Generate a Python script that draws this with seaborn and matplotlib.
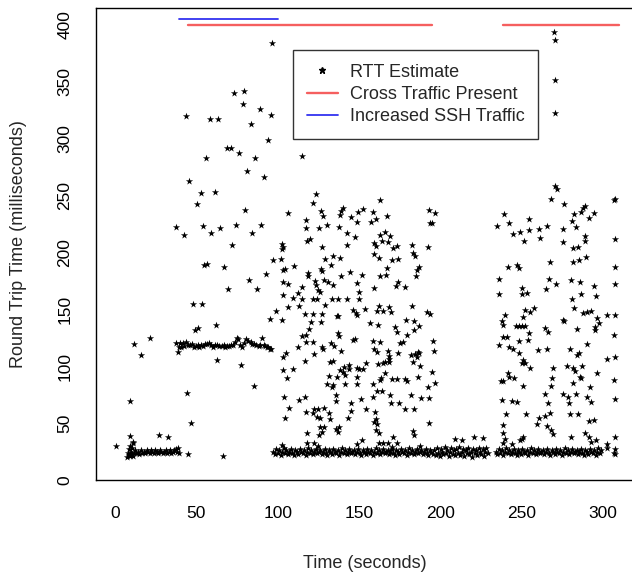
import pandas as pd
import seaborn as sns
import matplotlib.pyplot as plt
from matplotlib.lines import Line2D

# RTT estimates as (time s, rtt ms), segment by segment
start_pts = [(0.4, 29.9), (9.2, 69.5), (11.7, 119.6), (16.2, 109.9), (21.3, 124.8),
             (27.0, 39.9), (32.8, 37.8), (9.2, 38.7), (10.9, 33.7), (11.3, 32.2)]
start_base = [(7.4, 20), (7.9, 24), (8.3, 27), (8.7, 22), (9.1, 30), (9.5, 21), (9.9, 25),
              (10.3, 23), (10.7, 28), (11.1, 21), (11.6, 24), (12.2, 26), (13.0, 24), (13.9, 25),
              (14.8, 23), (15.7, 26), (16.6, 24), (17.6, 25), (18.5, 24), (19.4, 26), (20.3, 25),
              (21.2, 24), (22.1, 26), (23.0, 25), (23.9, 24), (24.8, 26), (25.7, 25), (26.6, 24),
              (27.5, 26), (28.4, 25), (29.3, 24), (30.2, 25), (31.1, 26), (32.0, 24), (32.9, 25),
              (33.8, 26), (34.7, 24), (35.6, 25), (36.5, 26), (37.3, 27), (38.1, 25), (38.8, 28),
              (39.2, 24)]

ssh_high = [(96.3, 384.4), (73.1, 340.5), (79.3, 342.3), (78.5, 330.5), (88.9, 326.2),
            (95.7, 320.9), (43.4, 320.0), (58.4, 317.4), (63.5, 317.4), (83.8, 313.0),
            (94.2, 298.9), (68.6, 292.1), (71.1, 292.1), (76.4, 287.5), (56.1, 283.1),
            (86.2, 283.1), (81.3, 271.6), (91.8, 266.4), (45.7, 262.9), (52.9, 252.3),
            (61.5, 253.2), (50.4, 242.9), (79.9, 237.4), (37.7, 222.4), (42.6, 215.4),
            (54.1, 223.3), (59.2, 217.4), (64.3, 221.5), (74.2, 224.2), (84.4, 217.4),
            (89.7, 224.2), (71.9, 206.6), (54.9, 189.0), (56.7, 189.9), (67.2, 187.5),
            (92.6, 181.1), (82.1, 175.8), (69.4, 167.9), (87.1, 167.9), (47.9, 155.0),
            (53.7, 155.0), (49.0, 131.9), (51.0, 133.3), (62.1, 136.3), (62.9, 105.5),
            (77.2, 101.1), (85.2, 82.6), (44.1, 76.5), (46.5, 50.1), (45.0, 22.9), (66.6, 21.1)]
ssh_band = [(37.5, 120.7), (38.5, 112.5), (39.1, 117.2), (39.9, 120.1), (40.8, 116.6),
            (41.6, 120.7), (42.3, 118.0), (43.5, 121.0), (44.8, 119.0), (46.0, 118.5),
            (47.3, 119.5), (48.5, 117.0), (49.8, 117.8), (50.8, 118.5), (51.8, 117.2),
            (53.0, 119.0), (54.2, 118.0), (55.5, 119.5), (56.5, 120.0), (57.6, 120.1),
            (58.8, 118.5), (60.4, 117.2), (61.5, 118.3), (62.8, 119.0), (64.0, 118.0),
            (65.6, 117.8), (66.7, 118.5), (67.8, 117.2), (69.0, 118.0), (70.3, 117.8),
            (71.5, 118.5), (72.7, 118.4), (73.8, 121.0), (74.8, 124.6), (75.6, 123.8),
            (76.8, 119.0), (77.9, 116.6), (79.3, 120.5), (80.5, 123.8), (81.8, 122.0),
            (83.4, 121.3), (84.4, 120.0), (85.4, 119.5), (86.8, 118.5), (88.3, 117.8),
            (89.4, 119.0), (90.4, 124.9), (91.6, 118.4), (92.4, 117.5), (93.2, 117.2),
            (94.2, 116.5), (95.3, 115.6)]

cross1_pts = [(115.0, 284.8), (123.6, 251.1), (121.5, 243.8), (106.2, 235.0), (126.6, 236.8),
              (127.7, 232.4), (140.4, 239.4), (138.9, 236.5), (138.3, 233.0), (145.3, 231.5),
              (149.4, 235.3), (152.3, 238.2), (149.0, 227.1), (162.9, 246.1), (158.4, 235.9),
              (160.7, 229.7), (157.4, 227.1), (167.4, 232.4), (192.8, 237.4), (196.9, 235.0),
              (193.6, 226.2), (195.1, 226.2), (117.2, 228.9), (117.2, 221.8), (125.6, 221.5),
              (130.3, 224.5), (137.7, 222.7), (142.4, 216.8), (147.8, 213.3), (118.2, 210.4),
              (119.9, 211.9), (142.8, 206.6), (127.3, 204.5), (159.2, 208.6), (160.5, 205.7),
              (162.9, 215.4), (166.0, 218.3), (169.0, 214.5), (164.1, 209.8), (168.0, 208.9),
              (170.7, 203.7), (173.2, 205.7), (182.6, 206.6), (183.4, 199.3), (184.4, 196.9),
              (192.4, 204.5), (102.7, 207.2), (103.1, 205.1), (102.5, 202.8), (96.9, 193.4),
              (101.9, 194.3), (129.1, 194.0), (133.8, 196.9), (138.3, 195.5), (132.6, 189.0),
              (159.2, 198.4), (162.5, 194.8), (170.1, 193.4), (174.2, 194.0), (167.0, 186.1),
              (186.9, 186.9), (185.4, 184.6), (103.5, 184.6), (104.5, 185.2), (110.3, 188.1),
              (118.5, 181.7), (118.5, 179.4), (126.9, 185.8), (127.5, 184.0), (139.1, 179.4),
              (144.5, 183.2), (151.6, 180.2), (162.9, 179.4), (166.6, 180.2), (184.8, 179.4),
              (103.5, 174.4), (106.6, 172.3), (123.0, 175.0), (128.5, 175.8), (131.2, 174.4),
              (134.2, 171.4), (123.6, 171.4), (125.0, 167.0), (126.0, 165.6), (114.8, 169.4),
              (112.7, 164.7), (149.0, 173.5), (150.2, 165.0), (150.2, 159.1), (159.2, 168.5),
              (174.2, 174.4), (172.7, 170.6), (178.3, 170.0), (103.5, 162.6), (109.2, 160.3),
              (114.8, 158.8), (99.0, 148.6), (95.3, 141.3), (102.7, 140.7), (106.6, 152.4),
              (113.1, 153.3), (121.9, 159.1), (124.0, 159.1), (129.1, 153.8), (133.4, 159.1),
              (137.3, 159.1), (142.4, 159.1), (136.3, 144.5), (136.9, 144.5), (146.1, 149.5),
              (148.2, 147.1), (149.0, 145.1), (153.7, 150.6), (162.5, 153.3), (160.9, 148.6),
              (165.0, 148.6), (168.4, 152.4), (169.5, 147.4), (182.6, 153.0), (191.6, 148.0),
              (193.6, 145.9), (116.8, 145.7), (121.9, 146.0), (127.0, 146.0), (120.3, 139.2),
              (126.4, 139.2), (156.8, 138.3), (161.9, 136.6), (178.9, 140.7), (183.8, 140.1),
              (187.1, 135.7), (172.3, 134.8), (173.2, 130.4), (119.5, 132.8), (114.8, 126.9),
              (117.4, 127.5), (137.3, 129.0), (137.9, 126.6), (179.5, 127.5), (183.8, 131.9),
              (146.5, 123.1), (147.8, 123.7), (117.2, 121.0), (121.9, 121.6), (112.7, 116.7),
              (95.7, 115.2), (132.8, 120.2), (134.8, 117.8), (138.9, 113.7), (127.0, 116.7),
              (127.7, 115.2), (158.4, 121.9), (162.9, 121.0), (175.2, 120.7), (177.3, 121.3),
              (195.3, 122.5), (159.4, 114.9), (160.9, 112.8), (167.8, 113.1), (168.4, 109.3),
              (174.2, 111.4), (181.8, 109.9), (184.4, 110.8), (186.9, 112.0), (185.4, 107.8),
              (186.1, 112.5), (196.3, 113.7), (103.1, 108.4), (104.9, 112.0), (116.8, 104.6),
              (122.5, 110.8), (132.2, 104.0), (133.8, 104.8), (144.1, 101.1), (141.0, 99.1),
              (148.6, 98.8), (150.2, 97.6), (152.3, 97.6), (154.1, 103.2), (161.9, 102.0),
              (164.6, 102.6), (166.0, 103.5), (168.7, 104.1), (168.2, 106.1), (183.0, 104.1),
              (187.5, 100.2), (103.5, 96.7), (109.6, 97.6), (138.3, 96.7), (140.0, 95.3),
              (143.9, 97.3), (131.8, 91.4), (136.3, 90.9), (141.4, 92.3), (149.0, 90.9),
              (163.5, 89.4), (162.9, 87.9), (166.0, 94.4), (170.1, 88.8), (173.2, 88.8),
              (178.3, 88.5), (179.3, 87.3), (186.5, 90.9), (194.7, 95.3), (106.0, 90.0),
              (130.1, 84.1), (133.6, 81.5), (134.2, 83.2), (141.2, 84.4), (149.0, 84.4),
              (158.8, 84.1), (160.9, 78.6), (164.1, 78.6), (192.4, 81.5), (196.9, 85.3),
              (104.1, 73.0), (113.3, 70.6), (116.6, 72.7), (135.9, 74.7), (135.7, 69.8),
              (151.0, 70.9), (158.8, 72.7), (169.0, 74.7), (169.5, 68.0), (174.8, 67.4),
              (182.2, 74.4), (187.9, 72.1), (193.2, 72.4), (107.0, 63.0), (117.4, 60.1),
              (122.5, 62.7), (125.0, 62.7), (128.7, 63.6), (121.9, 58.6), (124.0, 55.7),
              (126.1, 54.2), (131.4, 58.6), (132.2, 53.3), (145.1, 67.4), (145.1, 60.4),
              (154.1, 62.4), (143.0, 54.8), (160.0, 60.1), (160.5, 53.3), (159.2, 51.3),
              (161.3, 49.2), (178.3, 62.1), (184.0, 62.7), (193.2, 50.4), (104.5, 54.2),
              (126.1, 46.9), (128.7, 46.9), (127.1, 42.5), (125.6, 39.6), (117.8, 41.3),
              (135.9, 45.1), (137.3, 42.2), (137.9, 46.9), (160.5, 44.0), (162.5, 41.6),
              (162.1, 32.8), (165.0, 32.2), (168.1, 32.2), (170.1, 29.3), (170.7, 38.1),
              (173.6, 32.2), (183.4, 43.1), (184.0, 39.6), (117.8, 32.8), (122.5, 32.2),
              (125.0, 29.9), (102.5, 30.8), (149.0, 31.7), (151.6, 35.2), (187.5, 29.9)]
cross1_base = [(97.4, 25), (98.3, 23), (99.1, 27), (100.0, 24), (100.9, 26), (101.8, 22),
               (102.7, 25), (103.6, 28), (104.5, 24), (105.4, 26), (106.3, 23), (107.2, 25),
               (108.1, 27), (109.0, 24), (109.9, 22), (110.8, 26), (111.7, 25), (112.6, 23),
               (113.5, 27), (114.4, 25), (115.3, 24), (116.2, 26), (117.1, 22), (118.0, 25),
               (118.9, 28), (119.8, 24), (120.7, 26), (121.6, 23), (122.5, 25), (123.4, 27),
               (124.3, 24), (125.2, 25), (126.1, 26), (127.0, 23), (127.9, 25), (128.8, 27),
               (129.7, 24), (130.6, 22), (131.5, 26), (132.4, 25), (133.3, 23), (134.2, 27),
               (135.1, 25), (136.0, 24), (136.9, 26), (137.8, 22), (138.7, 25), (139.6, 28),
               (140.5, 24), (141.4, 26), (142.3, 23), (143.2, 25), (144.1, 27), (145.0, 24),
               (145.9, 25), (146.8, 26), (147.7, 23), (148.6, 25), (149.5, 27), (150.4, 24),
               (151.3, 22), (152.2, 26), (153.1, 25), (154.0, 23), (154.9, 27), (155.8, 25),
               (156.7, 24), (157.6, 26), (158.5, 22), (159.4, 25), (160.3, 28), (161.2, 24),
               (162.1, 26), (163.0, 23), (163.9, 25), (164.8, 27), (165.7, 24), (166.6, 25),
               (167.5, 26), (168.4, 23), (169.3, 25), (170.2, 27), (171.1, 24), (172.0, 22),
               (172.9, 26), (173.8, 25), (174.7, 23), (175.6, 27), (176.5, 25), (177.4, 24),
               (178.3, 26), (179.2, 22), (180.1, 25), (181.0, 28), (181.9, 24), (182.8, 26),
               (183.7, 23), (184.6, 25), (185.5, 27), (186.4, 24), (187.3, 25), (188.2, 26),
               (189.1, 23), (190.0, 25), (190.9, 27), (191.8, 24), (192.7, 22), (193.6, 26),
               (194.5, 25), (195.4, 23)]

quiet_pts = [(209.0, 36.0), (213.5, 35.0), (220.5, 38.0), (226.4, 36.7)]
quiet_base = [(196.3, 26), (197.1, 22), (197.9, 28), (198.7, 24), (199.5, 21), (200.3, 27),
              (201.1, 25), (201.9, 23), (202.7, 29), (203.5, 24), (204.3, 26), (205.1, 21),
              (205.9, 25), (206.7, 28), (207.5, 23), (208.3, 26), (209.1, 22), (209.9, 27),
              (210.7, 24), (211.5, 29), (212.3, 22), (213.1, 25), (213.9, 27), (214.7, 21),
              (215.5, 26), (216.3, 24), (217.1, 28), (217.9, 23), (218.7, 25), (219.5, 20),
              (220.3, 27), (221.1, 24), (221.9, 26), (222.7, 22), (223.5, 28), (224.3, 25),
              (225.1, 23), (225.9, 27), (226.7, 21), (227.5, 25), (228.3, 28), (229.1, 24)]

cross2_pts = [(269.8, 393.9), (270.2, 386.8), (270.4, 351.7), (270.7, 322.4), (270.4, 258.8),
              (271.5, 255.9), (267.8, 247.1), (276.0, 242.4), (307.3, 246.8), (306.9, 246.2),
              (239.3, 234.2), (288.9, 240.9), (287.9, 238.9), (281.9, 233.6), (286.4, 236.0),
              (294.6, 234.5), (291.3, 230.7), (234.6, 223.3), (242.4, 226.3), (254.3, 229.5),
              (244.4, 216.3), (248.9, 217.8), (251.4, 210.5), (254.7, 219.8), (260.6, 221.0),
              (265.3, 223.3), (261.2, 213.1), (275.6, 221.0), (280.7, 228.0), (283.4, 222.8),
              (275.6, 209.3), (288.9, 214.6), (288.7, 210.5), (281.7, 203.7), (284.8, 205.2),
              (307.3, 211.6), (241.4, 187.6), (246.9, 188.7), (248.3, 186.7), (267.4, 191.7),
              (281.7, 191.7), (285.4, 193.4), (289.5, 196.4), (307.3, 187.6), (236.2, 176.7),
              (250.0, 168.5), (250.4, 163.5), (253.4, 164.1), (266.6, 176.7), (270.9, 172.0),
              (264.9, 167.9), (280.3, 175.8), (285.8, 174.4), (294.4, 170.6), (295.4, 162.1),
              (236.2, 163.5), (307.1, 172.3), (280.7, 159.1), (282.1, 151.2), (286.4, 163.2),
              (252.0, 149.5), (255.1, 148.0), (257.5, 151.2), (251.0, 143.0), (239.7, 145.1),
              (237.7, 139.8), (238.7, 136.3), (246.3, 135.7), (248.3, 135.1), (250.4, 135.4),
              (252.0, 135.4), (275.6, 140.7), (275.9, 140.2), (287.9, 146.5), (289.9, 148.0),
              (292.4, 148.9), (296.1, 142.7), (297.3, 137.7), (295.0, 134.2), (295.2, 131.9),
              (302.6, 145.1), (307.5, 145.1), (264.3, 133.4), (266.4, 130.4), (254.7, 129.5),
              (254.1, 123.1), (248.5, 122.5), (283.8, 133.1), (238.7, 125.7), (240.7, 125.7),
              (236.2, 118.7), (242.2, 116.7), (244.8, 115.5), (248.5, 111.4), (306.9, 127.5),
              (290.3, 119.3), (259.8, 114.3), (265.3, 115.2), (279.7, 115.2), (283.8, 109.9),
              (285.4, 112.0), (251.0, 105.5), (252.0, 103.2), (249.9, 102.6), (255.1, 98.8),
              (302.6, 106.1), (307.5, 107.8), (269.4, 98.8), (277.6, 100.3), (281.7, 98.2),
              (282.5, 96.1), (286.8, 100.3), (296.5, 94.4), (241.4, 94.4), (242.4, 90.9),
              (245.5, 90.0), (237.3, 87.4), (238.7, 87.4), (268.4, 89.4), (268.0, 82.7),
              (250.6, 82.7), (281.3, 85.6), (286.4, 89.4), (285.8, 90.3), (292.0, 81.5),
              (306.9, 87.9), (264.3, 75.6), (266.4, 68.0), (275.2, 75.6), (278.6, 73.3),
              (283.4, 75.6), (279.3, 67.4), (289.9, 72.7), (292.4, 68.9), (237.7, 70.4),
              (244.2, 69.5), (246.9, 68.3), (307.1, 71.0), (240.1, 58.4), (252.4, 58.4),
              (267.4, 59.2), (264.3, 56.6), (260.8, 54.2), (259.2, 49.0), (279.7, 58.1),
              (284.8, 58.1), (291.3, 52.2), (294.4, 52.8), (238.7, 48.4), (238.3, 41.6),
              (239.7, 36.1), (265.7, 47.5), (268.0, 44.0), (269.0, 40.5), (250.0, 35.8),
              (248.9, 35.2), (251.0, 38.1), (288.9, 41.6), (291.6, 37.6), (292.4, 33.7),
              (295.7, 35.2), (280.1, 37.5), (307.3, 37.5), (243.8, 31.7), (238.3, 32.9),
              (302.2, 31.7), (302.6, 27.9), (307.2, 27.0), (307.0, 24.0), (307.4, 22.5)]
cross2_base = [(234.2, 25), (235.1, 23), (236.0, 27), (236.9, 24), (237.8, 26), (238.7, 22),
               (239.6, 25), (240.5, 28), (241.4, 24), (242.3, 26), (243.2, 23), (244.1, 25),
               (245.0, 27), (245.9, 24), (246.8, 22), (247.7, 26), (248.6, 25), (249.5, 23),
               (250.4, 27), (251.3, 25), (252.2, 24), (253.1, 26), (254.0, 22), (254.9, 25),
               (255.8, 28), (256.7, 24), (257.6, 26), (258.5, 23), (259.4, 25), (260.3, 27),
               (261.2, 24), (262.1, 25), (263.0, 26), (263.9, 23), (264.8, 25), (265.7, 27),
               (266.6, 24), (267.5, 22), (268.4, 26), (269.3, 25), (270.2, 23), (271.1, 27),
               (272.0, 25), (272.9, 24), (273.8, 26), (274.7, 22), (275.6, 25), (276.5, 28),
               (277.4, 24), (278.3, 26), (279.2, 23), (280.1, 25), (281.0, 27), (281.9, 24),
               (282.8, 25), (283.7, 26), (284.6, 23), (285.5, 25), (286.4, 27), (287.3, 24),
               (288.2, 22), (289.1, 26), (290.0, 25), (290.9, 23), (291.8, 27), (292.7, 25),
               (293.6, 24), (294.5, 26), (295.4, 22), (296.3, 25), (297.2, 28), (298.1, 24),
               (298.8, 26)]

# periods of cross traffic / extra ssh traffic (start, end) and the height they are drawn at
cross_periods = [(45.0, 195.0), (238.5, 310.0)]
cross_level = 400
ssh_periods = [(39.5, 100.0)]
ssh_level = 405

xticks = [0, 50, 100, 150, 200, 250, 300]
yticks = [0, 50, 100, 150, 200, 250, 300, 350, 400]

rows = (start_pts + start_base + ssh_high + ssh_band + cross1_pts + cross1_base
        + quiet_pts + quiet_base + cross2_pts + cross2_base)
df = pd.DataFrame(rows, columns=['time', 'rtt'])

sns.set_style('white')
plt.rcParams['font.family'] = ['Liberation Sans', 'DejaVu Sans']

fig = plt.figure(figsize=(6.32, 5.72), dpi=100)
ax = fig.add_axes([96 / 632, 92 / 572, 536 / 632, 472 / 572])

sns.scatterplot(data=df, x='time', y='rtt', marker='*', color='black', s=30,
                linewidth=0, ax=ax, legend=False)

for a, b in cross_periods:
    ax.plot([a, b], [cross_level, cross_level], color='#f55f5f', lw=1.7)
for a, b in ssh_periods:
    ax.plot([a, b], [ssh_level, ssh_level], color='#3333f0', lw=1.3)

ax.set_xlim(-11.7, 317.8)
ax.set_ylim(0, 415)
ax.set_xticks(xticks)
ax.set_yticks(yticks)
ax.tick_params(axis='both', direction='out', length=8, width=0.9, color='#333333',
               labelsize=12.5, labelcolor='black')
ax.tick_params(axis='x', pad=11)
ax.tick_params(axis='y', pad=9, labelrotation=90)
for lab in ax.get_yticklabels():
    lab.set_va('center')

for side in ['left', 'bottom', 'top']:
    ax.spines[side].set_color('black')
    ax.spines[side].set_linewidth(1.0)
ax.spines['right'].set_visible(False)

ax.set_xlabel('Time (seconds)', fontsize=13)
ax.set_ylabel('Round Trip Time (milliseconds)', fontsize=13)
ax.xaxis.set_label_coords((365 - 96) / 536, (480 - 563) / 472)
ax.xaxis.label.set_va('center')
ax.yaxis.set_label_coords((19 - 96) / 536, 0.5)
ax.yaxis.label.set_va('center')

handles = [Line2D([], [], marker='*', color='black', linestyle='none', markersize=4.5),
           Line2D([], [], color='#f55f5f', lw=1.7),
           Line2D([], [], color='#3333f0', lw=1.3)]
leg = ax.legend(handles, ['RTT Estimate', 'Cross Traffic Present', 'Increased SSH Traffic'],
                loc='upper left', bbox_to_anchor=((293 - 96) / 536, (480 - 50) / 472),
                borderaxespad=0, fontsize=13, frameon=True, fancybox=False,
                borderpad=0.75, labelspacing=0.3, handlelength=1.75, handletextpad=0.65)
leg.get_frame().set_edgecolor('black')
leg.get_frame().set_linewidth(1.0)

fig.savefig('out.png', dpi=100)
